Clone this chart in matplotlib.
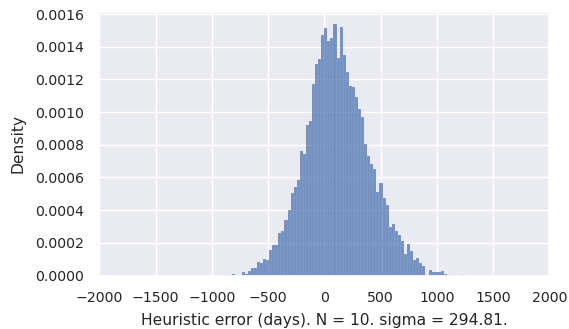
import numpy as np
import matplotlib
matplotlib.use('Agg')
import matplotlib.pyplot as plt
import seaborn as sns

# Histogram of heuristic error (days)
first_edge = -899.25
bin_width = 27.25
density = [
    0.0000030, 0.0000018, 0.0000043, 0.0000073, 0.0, 0.0000030,
    0.0000213, 0.0000073, 0.0000274, 0.0000439, 0.0000476, 0.0000823,
    0.0000781, 0.0000988, 0.0000927, 0.000154, 0.000186, 0.000189,
    0.000261, 0.000271, 0.000338, 0.000399, 0.000507, 0.000542,
    0.000587, 0.000765, 0.000745, 0.000922, 0.000948, 0.001172,
    0.001294, 0.001324, 0.001473,
    0.001517, 0.001436, 0.001456, 0.001538, 0.001334, 0.001523,
    0.001349, 0.001247, 0.001162, 0.001151, 0.001095, 0.001018,
    0.000968, 0.000806, 0.000732, 0.000680, 0.000649, 0.000511,
    0.000566, 0.000474, 0.000430, 0.000298, 0.000318, 0.000271,
    0.000247, 0.000212, 0.000131, 0.000190, 0.000151, 0.0000945,
    0.000107, 0.0000744, 0.0000598, 0.0000030, 0.0000335, 0.0000195,
    0.0000244, 0.0000244, 0.0000274, 0.0000122, 0.0000061, 0.0000030,
    0.0000012, 0.0, 0.0000018, 0.0000012, 0.0, 0.0000018,
]
xlim = (-2000, 2000)
xlabel = 'Heuristic error (days). N = 10. sigma = 294.81.'

sns.set_theme(style='darkgrid')
plt.rcParams['font.family'] = ['DejaVu Sans']

fig = plt.figure(figsize=(5.69, 3.29), dpi=100)
ax = fig.add_axes([0.1745, 0.1626, 0.7909, 0.8018])

edges = first_edge + bin_width * np.arange(len(density) + 1)
ax.bar(edges[:-1], density, width=bin_width, align='edge',
       color='#4c72b0', alpha=0.75, edgecolor='#e8ebf4', linewidth=0.1)

ax.set_xlim(*xlim)
ax.set_xticks(np.arange(-2000, 2001, 500))
ax.set_yticks(np.arange(0, 0.00161, 0.0002))
ax.yaxis.set_major_formatter(plt.FormatStrFormatter('%.4f'))
ax.tick_params(labelsize=10.2, pad=5)
ax.set_xlabel(xlabel, fontsize=11.2, labelpad=6)
ax.set_ylabel('Density', fontsize=11.2, labelpad=7)

fig.savefig('out.png', dpi=100)
